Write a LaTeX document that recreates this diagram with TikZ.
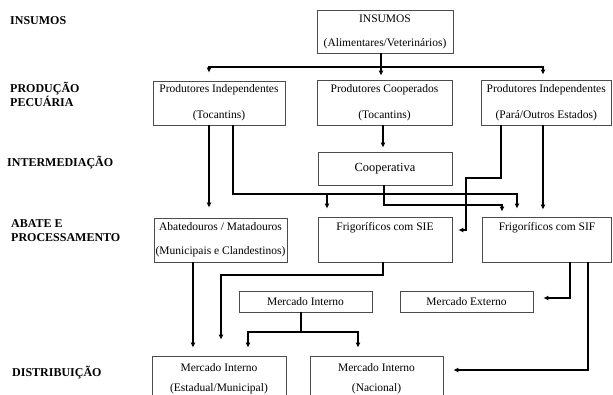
\documentclass[tikz,border=0pt]{standalone}
\usepackage{fontspec}
\setmainfont{Liberation Serif}
\usetikzlibrary{arrows.meta}
\tikzset{box/.style={draw=black!70, line width=0.8pt, minimum width=#1, align=center, inner sep=0pt, font=\fontsize{11.5}{13.5}\selectfont}, box/.default=133,
  arr/.style={-{Latex[length=5pt,width=5pt]}, line width=1.1pt, shorten >=#1}, arr/.default=8pt,
  lvl/.style={font=\fontsize{12}{14}\selectfont\bfseries, align=left, anchor=west, inner sep=0pt}}

\begin{document}
\begin{tikzpicture}[x=1pt,y=-1pt]
\clip (0,0) rectangle (613,394);
% ---- levels ----
\node[lvl] (lIns) at (10,21) {INSUMOS};
\node[lvl] (lProd) at (10,94) {PRODUÇÃO\\PECUÁRIA};
\node[lvl] (lInt) at (7,163) {INTERMEDIAÇÃO};
\node[lvl] (lAba) at (11,231) {ABATE E\\PROCESSAMENTO};
\node[lvl] (lDis) at (12,373) {DISTRIBUIÇÃO};
% ---- boxes ----
\node[box=136, minimum height=43] (ins) at (385,31.5) {INSUMOS\\[10.5pt](Alimentares/Veterinários)};
\node[box=132, minimum height=44] (pit) at (219,103) {Produtores Independentes\\[12.5pt](Tocantins)};
\node[box=135, minimum height=45] (pco) at (384.5,102.5) {Produtores Cooperados\\[12.5pt](Tocantins)};
\node[box=130.5, minimum height=45] (pip) at (546.25,102.5) {Produtores Independentes\\[12.5pt](Pará/Outros Estados)};
\node[box=134, minimum height=33, font=\fontsize{12.4}{14}\selectfont] (coop) at (385,168.5) {Cooperativa};
\node[box=133, minimum height=44] (aba) at (220.5,240) {Abatedouros / Matadouros\\[10.5pt](Municipais e Clandestinos)};
\node[box=134, minimum height=45] (sie) at (385,239.5) {Frigoríficos com SIE\\[12pt]\mbox{}};
\node[box=128.5, minimum height=45] (sif) at (547,239.5) {Frigoríficos com SIF\\[12pt]\mbox{}};
\node[box=133, minimum height=21] (mi) at (305.5,301.5) {Mercado Interno};
\node[box=133, minimum height=21] (me) at (466.5,301.5) {Mercado Externo};
\node[box=134, minimum height=46] (mie) at (219,379) {Mercado Interno\\[6.5pt](Estadual/Municipal)};
\node[box=133, minimum height=46] (min) at (376.5,379) {Mercado Interno\\[6.5pt](Nacional)};
% ---- insumos ----
\coordinate (bus) at (381,67);
\draw[arr=4pt] (ins.south -| bus) -- (pco.north -| bus);
\draw[arr] (bus) -| (pit.north -| 209,0);
\draw[arr=5pt] (bus) -| (pip.north -| 543,0);
% ---- producao ----
\draw[arr=10pt] (pit.south -| 209,0) -- (aba.north -| 209,0);
\coordinate (j1) at (327,194);
\draw[arr] (pit.south -| 233,0) |- (517,194) -- (sif.north -| 517,0);
\draw[arr] (j1) -- (sie.north -| j1);
\draw[arr=4pt] (pco.south -| 383,0) -- (coop.north -| 383,0);
\draw[arr=5pt] (coop.south -| 384,0) |- (502,205) -- (sif.north -| 502,0);
\draw[arr=6pt] (pip.south -| 501,0) |- (466,178) |- (sie.east |- 0,230);
\draw[arr=7pt] (pip.south -| 543,0) -- (sif.north -| 543,0);
% ---- distribuicao ----
\draw[arr] (aba.south -| 193,0) -- (mie.north -| 193,0);
\draw[arr=16pt] (sie.south -| 383,0) |- (221,275) -- (mie.north -| 221,0);
\coordinate (j2) at (301,332);
\draw[line width=1.1pt] (mi.south -| j2) -- (j2);
\draw[arr] (j2) -| (mie.north -| 248,0);
\draw[arr] (j2) -| (min.north -| 358,0);
\draw[arr=10pt] (sif.south -| 570,0) |- ([yshift=3.5pt]me.east);
\draw[arr=10pt] (sif.south -| 588,0) |- ([yshift=9pt]min.east);
\end{tikzpicture}
\end{document}
